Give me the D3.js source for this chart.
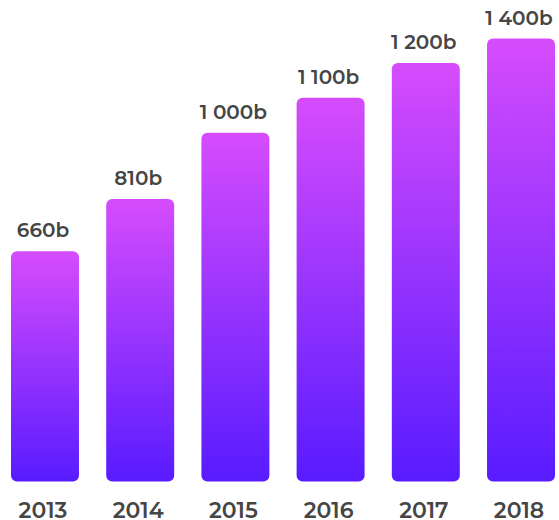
<!DOCTYPE html>
<html><head><meta charset="utf-8">
<script src="https://cdn.jsdelivr.net/npm/d3@7"></script>
<style>html,body{margin:0;padding:0;background:#fff;}</style>
</head><body>
<svg id="chart" width="559" height="520"></svg>
<script>
const years = ["2013","2014","2015","2016","2017","2018"];
const values = [660, 810, 1000, 1100, 1200, 1400];
const valueLabels = ["660b","810b","1 000b","1 100b","1 200b","1 400b"];
const yMax = 1270;

const svg = d3.select("#chart");
const x = d3.scaleBand().domain(years).range([11, 555]).paddingInner(0.286).paddingOuter(0);
const y = d3.scaleLinear().domain([0, yMax]).range([481.5, 38.5]).clamp(true);

const defs = svg.append("defs");
const g = defs.append("linearGradient").attr("id","barGrad")
  .attr("x1",0).attr("y1",0).attr("x2",0).attr("y2",1);
g.append("stop").attr("offset","0%").attr("stop-color","#d64cfc");
g.append("stop").attr("offset","100%").attr("stop-color","#581bff");

svg.append("g").selectAll("rect").data(values).join("rect")
  .attr("x",(d,i)=>x(years[i]))
  .attr("y",d=>y(d))
  .attr("width",x.bandwidth())
  .attr("height",d=>y(0)-y(d))
  .attr("rx",6).attr("ry",6)
  .attr("fill","url(#barGrad)");

const font = "Montserrat, 'DejaVu Sans', sans-serif";
svg.append("g").selectAll("text").data(values).join("text")
  .attr("x",(d,i)=>x(years[i])+x.bandwidth()/2 - 2)
  .attr("y",d=>y(d)-14)
  .attr("text-anchor","middle")
  .attr("font-family",font).attr("font-weight",600).attr("font-size",20)
  .attr("fill","#454545")
  .text((d,i)=>valueLabels[i]);

const xAxis = d3.axisBottom(x).tickSize(0).tickPadding(0);
const ax = svg.append("g").attr("transform","translate(-2,518)").call(xAxis);
ax.select(".domain").remove();
ax.selectAll("text").attr("font-family",font).attr("font-weight",600).attr("font-size",22)
  .attr("fill","#454545").attr("dy",0).attr("y",0);
</script>
</body></html>
